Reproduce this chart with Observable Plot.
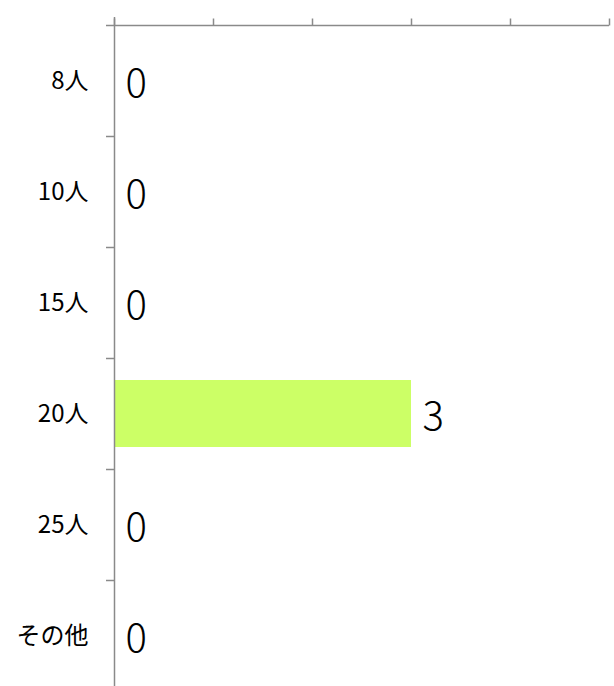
<!DOCTYPE html>
<html><head><meta charset="utf-8">
<script src="https://cdn.jsdelivr.net/npm/d3@7"></script>
<script src="https://cdn.jsdelivr.net/npm/@observablehq/plot@0.6"></script>
<style>body{margin:0;background:#fff}</style>
</head><body><div id="chart"></div>
<script>
const categories = ["8人", "10人", "15人", "20人", "25人", "その他"];
const counts = [0, 0, 0, 3, 0, 0];
const xTicks = [0, 1, 2, 3, 4, 5];

const data = categories.map((c, i) => ({category: c, count: counts[i]}));
const axisColor = "#8a8a8a";
const yTop = 24.5, yBottom = 690.5;
const step = (yBottom - yTop) / categories.length;

const chart = Plot.plot({
  width: 614, height: 686,
  marginTop: yTop, marginBottom: 686 - yBottom, marginLeft: 114, marginRight: 5,
  style: {fontFamily: "'Noto Sans CJK JP', 'Noto Sans', sans-serif", background: "#fff", color: "#000"},
  x: {domain: [0, 5], range: [114, 609], axis: null},
  y: {domain: categories, range: [yTop, yBottom], padding: 0, axis: null},
  marks: [
    Plot.barX(data, {x: "count", y: "category", fill: "#ccff66", insetTop: 22, insetBottom: 22}),
    Plot.axisX({anchor: "top", ticks: xTicks, tickSize: 7, tickFormat: () => "", stroke: axisColor, strokeWidth: 1.5, label: null}),
    Plot.ruleY([categories[0]], {y: d => d, dy: -step / 2, x1: 0, x2: 5, insetLeft: -8, stroke: axisColor, strokeWidth: 1.5}),
    Plot.ruleY(categories.slice(1), {y: d => d, dy: -step / 2, x1: 0, x2: 0, insetLeft: -8, stroke: axisColor, strokeWidth: 1.5}),
    Plot.ruleX([0], {stroke: axisColor, strokeWidth: 1.5, insetTop: -7.5}),
    Plot.axisY({anchor: "left", tickSize: 0, tickPadding: 26, fontSize: 24, label: null}),
    Plot.text(data, {x: "count", y: "category", text: d => String(d.count), textAnchor: "start", dx: 11, dy: 3, fontSize: 40, fontWeight: 300, fill: "#000"})
  ]
});
document.getElementById("chart").appendChild(chart);
</script>
</body></html>
